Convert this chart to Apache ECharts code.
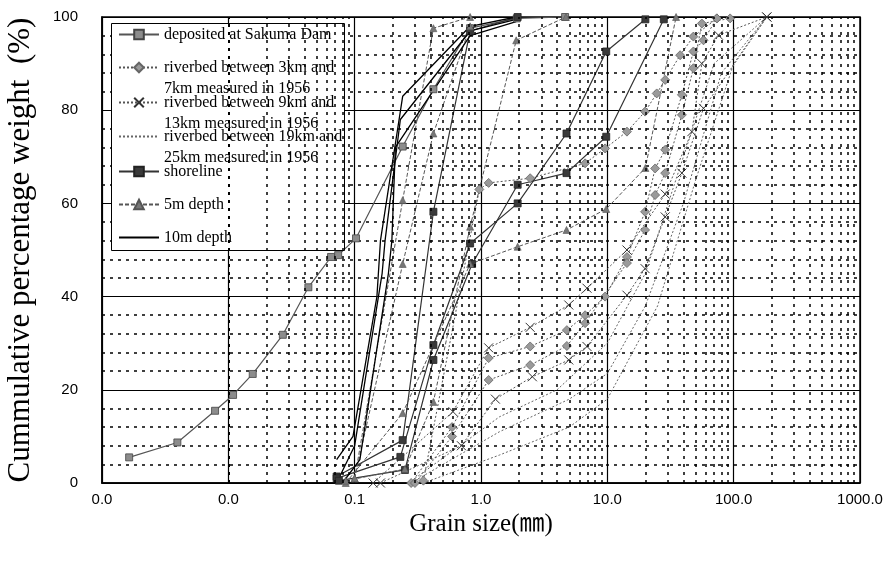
<!DOCTYPE html>
<html>
<head>
    <meta charset="utf-8" />
    <script src="https://cdn.jsdelivr.net/npm/echarts@6/dist/echarts.min.js"></script>
    <title></title>
    <style>html,body{margin:0;padding:0;background:#fff;}</style>
</head>
<body>
    <div id="main" style="width:885px;height:562px;"></div>
<script>
    // grain size (mm), cumulative percentage weight (%)
    var depositedSakuma = [
        [0.00164, 5.5], [0.00395, 8.7], [0.00785, 15.5], [0.0109, 18.9], [0.0156, 23.4], [0.027, 31.8],
        [0.043, 42], [0.065, 48.5], [0.074, 48.9], [0.1025, 52.5], [0.24, 72.2], [0.42, 84.5], [0.82, 97.6], [1.92, 99.7], [4.63, 100]
    ];
    var riverbed3to7 = [
        [[0.35, 0.5], [0.97, 63], [1.15, 64.4], [2.45, 65.4], [6.67, 68.6], [9.6, 71.8], [14.3, 75.4], [19.9, 79.7], [24.6, 83.6], [28.7, 86.5], [37.7, 91.8], [48, 95.8], [73.6, 99.7]],
        [[0.28, 0], [0.59, 12], [1.15, 26.8], [2.45, 29.3], [4.78, 32.8], [6.67, 36], [9.6, 40], [14.3, 48.5], [19.9, 58.2], [23.9, 67.5], [28.7, 71.5], [38.9, 83.3], [48, 92.6], [57.7, 95], [73.6, 99.7]],
        [[0.3, 0], [0.59, 10], [1.15, 22.1], [2.45, 25.3], [4.78, 29.4], [6.67, 34.3], [14.3, 47.2], [19.9, 54.3], [23.9, 61.8], [28.7, 66.5], [38.9, 79], [48, 89], [56, 98.6], [93.8, 99.7]]
    ];
    var riverbed9to13 = [
        [[0.14, 0], [0.6, 15.3], [1.15, 29], [2.45, 33.4], [4.95, 38.2], [6.9, 41.8], [14.3, 50], [28.7, 62], [46.7, 75.4], [56, 90], [75.8, 96.1], [183, 100]],
        [[0.16, 0], [0.7, 8], [1.3, 18], [2.55, 22.8], [4.95, 26.4], [6.9, 29.3], [14.3, 40.3], [19.9, 46], [28.7, 57.1], [38.9, 66.5], [57.7, 80.4], [183, 100]]
    ];
    var riverbed19to25 = [
        [[0.3, 1], [1.4, 14.2], [4, 20], [10, 30], [20, 45], [40, 70], [70, 90], [183, 100]],
        [[0.3, 0.5], [1.4, 11], [5, 18], [10, 23.5], [20, 38], [40, 60], [80, 88], [183, 100]],
        [[0.35, 0], [1.4, 6], [5, 12], [10, 18], [25, 38], [50, 65], [100, 90], [183, 100]]
    ];
    var shoreline = [
        [[0.072, 1.4], [0.24, 9.2], [0.42, 58.2], [0.82, 97], [1.95, 100]],
        [[0.072, 1], [0.23, 5.6], [0.42, 29.6], [0.82, 51.4], [1.95, 60], [4.75, 75], [9.8, 92.6], [20, 99.5]],
        [[0.075, 0.5], [0.25, 2.8], [0.42, 26.4], [0.85, 47], [1.95, 64], [4.75, 66.5], [9.8, 74.3], [28, 99.5]]
    ];
    var depth5m = [
        [[0.1, 1], [0.24, 60.7], [0.42, 97.6], [0.82, 100]],
        [[0.1, 1], [0.24, 47], [0.42, 75], [0.82, 98]],
        [[0.085, 0], [0.24, 15], [0.82, 47], [1.95, 50.7], [4.75, 54.3], [9.8, 58.8], [20, 67.6], [35, 100]],
        [[0.085, 0.5], [0.25, 3], [0.42, 17.4], [0.82, 55], [1.9, 95], [4.7, 100]]
    ];
    var depth10m = [
        [[0.072, 5], [0.097, 10], [0.15, 40], [0.16, 52], [0.24, 83], [0.82, 98], [1.9, 100]],
        [[0.075, 1], [0.1, 8], [0.165, 45], [0.174, 52], [0.23, 78], [0.82, 97], [1.9, 99.5]],
        [[0.08, 0], [0.11, 5], [0.185, 45], [0.197, 52], [0.21, 72], [0.82, 96], [1.9, 99]]
    ];
    var decades = [0.001, 0.01, 0.1, 1, 10, 100];
    var minorSteps = [2, 3, 4, 5, 6, 7, 8, 9];

    var names = [
        'deposited at Sakuma Dam',
        'riverbed between 3km and\n7km measured in 1956',
        'riverbed between 9km and\n13km measured in 1956',
        'riverbed between 19km and\n25km measured in 1956',
        'shoreline',
        '5m depth',
        '10m depth'
    ];

    var crossPath = 'path://M0,0L10,10M10,0L0,10';
    var hidden = 'rgba(0,0,0,0)';
    var styles = [
        { symbol: 'rect', symbolSize: 7, itemStyle: { color: '#8c8c8c', borderColor: '#444', borderWidth: 0.8 }, lineStyle: { color: '#555', width: 1.2, type: 'solid' } },
        { symbol: 'diamond', symbolSize: 9, itemStyle: { color: '#9a9a9a', borderColor: '#666', borderWidth: 0.8 }, lineStyle: { color: '#555', width: 1, type: [2, 2] } },
        { symbol: crossPath, symbolSize: 9, itemStyle: { color: 'none', borderColor: '#333', borderWidth: 1 }, lineStyle: { color: '#555', width: 1, type: [2, 2] } },
        { symbol: 'circle', symbolSize: 0, noMarker: true, itemStyle: { color: hidden, borderColor: hidden }, lineStyle: { color: '#666', width: 1, type: [2, 2] } },
        { symbol: 'rect', symbolSize: 7, itemStyle: { color: '#3a3a3a', borderColor: '#222', borderWidth: 0.8 }, lineStyle: { color: '#333', width: 1.2, type: 'solid' } },
        { symbol: 'triangle', symbolSize: 7, itemStyle: { color: '#777', borderColor: '#555', borderWidth: 0.6 }, lineStyle: { color: '#555', width: 1, type: [4, 2] } },
        { symbol: 'circle', symbolSize: 0, noMarker: true, itemStyle: { color: hidden, borderColor: hidden }, lineStyle: { color: '#000', width: 1.3, type: 'solid' } }
    ];
    var groups = [[depositedSakuma], riverbed3to7, riverbed9to13, riverbed19to25, shoreline, depth5m, depth10m];

    var minorX = [];
    decades.forEach(function (d) {
        minorSteps.forEach(function (m) { minorX.push({ xAxis: d * m }); });
    });

    var series = [{
        type: 'line', data: [], z: 1, silent: true,
        markLine: {
            silent: true, symbol: 'none', label: { show: false },
            lineStyle: { color: '#000', width: 1.5, type: [3, 5] },
            data: minorX
        }
    }];
    groups.forEach(function (curves, i) {
        curves.forEach(function (c) {
            series.push({
                name: names[i],
                type: 'line',
                data: c,
                symbol: styles[i].symbol,
                symbolSize: styles[i].symbolSize,
                showSymbol: !styles[i].noMarker,
                itemStyle: styles[i].itemStyle,
                lineStyle: styles[i].lineStyle,
                emphasis: { disabled: true },
                z: 2
            });
        });
    });

    var legendTops = [24, 36, 71, 105, 161, 194, 227];
    var legends = names.map(function (n, i) {
        return {
            data: [n], left: 118, top: legendTops[i], padding: 0,
            itemWidth: 40, itemHeight: 12, itemGap: 0, selectedMode: false,
            formatter: function (name) {
                // blank first line keeps the icon level with the first text line
                return name.indexOf('\n') >= 0 ? ' \n' + name : name;
            },
            textStyle: { fontFamily: 'Liberation Serif', fontSize: 16, color: '#000', lineHeight: 21 }
        };
    });

    var chart = echarts.init(document.getElementById('main'));
    var option = {
        animation: false,
        backgroundColor: '#fff',
        grid: {
            left: 102, right: 25, top: 17, bottom: 79, outerBoundsMode: 'none',
            show: true, borderColor: '#000', borderWidth: 1.5, backgroundColor: 'transparent'
        },
        legend: legends,
        graphic: [{
            type: 'rect', z: 3, left: 111, top: 23,
            shape: { width: 233, height: 227 },
            style: { fill: '#fff', stroke: '#000', lineWidth: 1 }
        }],
        xAxis: {
            type: 'log', logBase: 10, min: 0.001, max: 1000,
            name: 'Grain size(㎜)', nameLocation: 'middle', nameGap: 27,
            nameTextStyle: { fontFamily: 'Liberation Serif, Noto Sans CJK JP', fontSize: 25, color: '#000' },
            axisLine: { lineStyle: { color: '#000', width: 1.5 } },
            axisTick: { show: false },
            axisLabel: {
                color: '#000', fontFamily: 'Liberation Sans', fontSize: 15, margin: 9,
                formatter: function (v) { return v.toFixed(1); }
            },
            splitLine: { show: true, lineStyle: { color: '#000', width: 1.2 } }
        },
        yAxis: {
            type: 'value', min: 0, max: 100, interval: 20,
            name: 'Cummulative percentage weight  (%)', nameLocation: 'middle', nameGap: 66,
            nameTextStyle: { fontFamily: 'Liberation Serif', fontSize: 31, color: '#000' },
            axisLine: { show: true, lineStyle: { color: '#000', width: 1.5 } },
            axisTick: { show: false },
            axisLabel: { color: '#000', fontFamily: 'Liberation Sans', fontSize: 15, margin: 24 },
            splitLine: { show: true, lineStyle: { color: '#000', width: 1.2 } },
            minorTick: { show: false, splitNumber: 5 },
            minorSplitLine: { show: true, lineStyle: { color: '#000', width: 1.5, type: [3, 5] } }
        },
        series: series
    };
    chart.setOption(option);
</script>
</body>
</html>
